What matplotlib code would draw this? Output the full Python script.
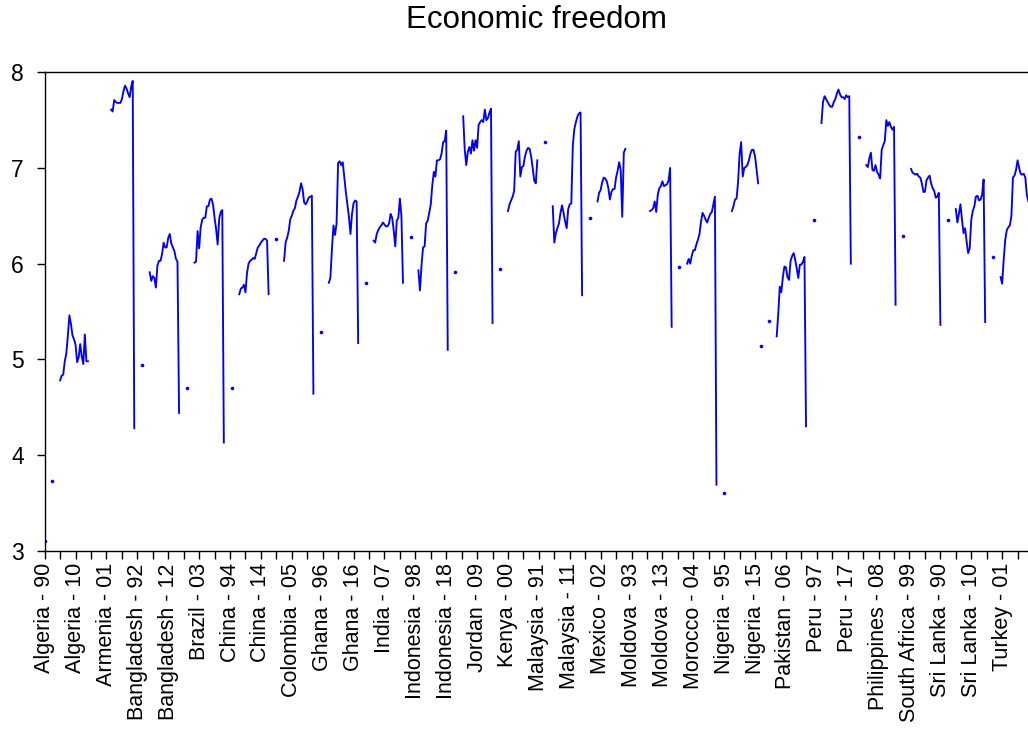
import numpy as np
import matplotlib
matplotlib.use("Agg")
import matplotlib.pyplot as plt

nan = np.nan

countries = ["Algeria", "Armenia", "Bangladesh", "Brazil", "China", "Colombia",
             "Ghana", "India", "Indonesia", "Jordan", "Kenya", "Malaysia",
             "Mexico", "Moldova", "Morocco", "Nigeria", "Pakistan", "Peru",
             "Philippines", "South Africa", "Sri Lanka", "Turkey"]
first_year = 1990
last_year = 2018

# five-yearly observations (1990 and 1995)
v1990 = [3.10, nan, 4.28, 4.44, 4.13, 5.68, 4.64, 5.17, 5.80, 5.10, 5.38,
         7.08, 5.67, nan, 5.34, 3.69, 5.14, 4.30, 6.00, 5.57, 5.36, 5.39]
v1995 = [3.73, nan, 4.94, 4.70, 4.70, 6.26, 5.29, 5.80, 6.28, 5.91, 5.94,
         7.27, 6.48, nan, 5.97, 3.60, 5.40, 6.46, 7.32, 6.29, 6.46, 6.07]

# annual observations 2000-2018
algeria = [4.78, 4.83, 4.84, 4.98, 5.06, 5.25, 5.46, 5.37, 5.25, 5.21,
           5.15, 4.97, 5.02, 5.16, 5.03, 4.95, 5.26, 4.98, 4.98]
armenia = [nan, nan, nan, nan, 7.61, 7.59, 7.71, 7.69, 7.68, 7.68,
           7.68, 7.72, 7.80, 7.86, 7.83, 7.78, 7.74, 7.85, 7.91]
bangladesh = [5.91, 5.82, 5.87, 5.85, 5.75, 5.98, 6.03, 6.03, 6.10, 6.22,
              6.17, 6.17, 6.27, 6.31, 6.21, 6.17, 6.13, 6.05, 6.02]
brazil = [6.01, 6.02, 6.34, 6.16, 6.38, 6.46, 6.48, 6.48, 6.60, 6.60,
          6.67, 6.68, 6.62, 6.48, 6.36, 6.20, 6.47, 6.54, 6.56]
china = [5.68, 5.74, 5.75, 5.78, 5.70, 5.90, 6.00, 6.03, 6.04, 6.06,
         6.05, 6.11, 6.17, 6.19, 6.22, 6.24, 6.26, 6.26, 6.24]
colombia = [6.03, 6.22, 6.27, 6.34, 6.46, 6.50, 6.55, 6.58, 6.66, 6.70,
            6.75, 6.84, 6.78, 6.64, 6.62, 6.65, 6.69, 6.70, 6.71]
ghana = [5.80, 5.85, 6.15, 6.40, 6.30, 6.42, 7.05, 7.07, 7.03, 7.06,
         6.90, 6.75, 6.62, 6.49, 6.31, 6.52, 6.63, 6.66, 6.65]
india = [6.24, 6.22, 6.31, 6.35, 6.38, 6.40, 6.43, 6.41, 6.39, 6.39,
         6.42, 6.52, 6.48, 6.35, 6.18, 6.45, 6.48, 6.68, 6.50]
indonesia = [5.93, 5.72, 5.98, 6.17, 6.18, 6.42, 6.45, 6.53, 6.62, 6.82,
             6.96, 6.91, 7.08, 7.08, 7.09, 7.15, 7.27, 7.28, 7.39]
jordan = [7.54, 7.19, 7.03, 7.17, 7.22, 7.15, 7.29, 7.18, 7.29, 7.21,
          7.45, 7.48, 7.50, 7.48, 7.61, 7.50, 7.52, 7.58, 7.62]
kenya = [6.55, 6.62, 6.66, 6.70, 6.76, 7.17, 7.19, 7.28, 6.91, 7.01,
         7.02, 7.12, 7.18, 7.21, 7.20, 7.12, 7.00, 6.87, 6.84]
malaysia = [6.60, 6.22, 6.32, 6.37, 6.42, 6.53, 6.61, 6.53, 6.44, 6.37,
            6.57, 6.62, 6.63, 7.24, 7.41, 7.48, 7.54, 7.57, 7.58]
mexico = [6.65, 6.74, 6.77, 6.85, 6.90, 6.89, 6.86, 6.79, 6.67, 6.75,
          6.78, 6.78, 6.90, 6.97, 7.06, 6.98, 6.49, 7.16, 7.20]
moldova = [nan, nan, nan, nan, nan, 6.55, 6.56, 6.58, 6.65, 6.54,
           6.72, 6.79, 6.81, 6.86, 6.81, 6.82, 6.83, 6.87, 7.00]
morocco = [6.00, 6.05, 6.00, 6.08, 6.14, 6.14, 6.20, 6.25, 6.31, 6.44,
           6.53, 6.50, 6.46, 6.43, 6.48, 6.52, 6.54, 6.62, 6.70]
nigeria = [6.55, 6.60, 6.67, 6.68, 6.85, 7.15, 7.27, 6.91, 7.00, 7.01,
           7.03, 7.08, 7.15, 7.19, 7.19, 7.12, 6.98, 6.84, nan]
pakistan = [5.24, 5.47, 5.76, 5.70, 5.86, 5.97, 5.96, 5.86, 5.83, 6.03,
            6.08, 6.11, 6.04, 5.95, 5.85, 5.99, 5.99, 6.02, 6.07]
peru = [7.47, 7.69, 7.75, 7.72, 7.69, 7.66, 7.64, 7.64, 7.69, 7.72,
        7.78, 7.82, 7.77, 7.74, 7.74, 7.72, 7.76, 7.74, 7.75]
philippines = [7.03, 7.01, 7.10, 7.16, 6.98, 6.97, 7.03, 6.96, 6.93, 6.89,
               7.19, 7.24, 7.28, 7.50, 7.44, 7.48, 7.43, 7.40, 7.43]
south_africa = [6.99, 6.95, 6.94, 6.93, 6.94, 6.91, 6.90, 6.84, 6.75, 6.75,
                6.87, 6.90, 6.92, 6.84, 6.79, 6.76, 6.69, 6.70, 6.74]
sri_lanka = [6.57, 6.43, 6.52, 6.62, 6.46, 6.32, 6.37, 6.23, 6.11, 6.16,
             6.46, 6.55, 6.60, 6.70, 6.71, 6.66, 6.67, 6.72, 6.88]
turkey = [5.86, 5.79, 6.04, 6.25, 6.35, 6.38, 6.40, 6.50, 6.90, 6.92,
          6.98, 7.08, 7.00, 6.94, 6.93, 6.94, 6.90, 6.72, 6.65]

annual = [algeria, armenia, bangladesh, brazil, china, colombia, ghana, india,
          indonesia, jordan, kenya, malaysia, mexico, moldova, morocco, nigeria,
          pakistan, peru, philippines, south_africa, sri_lanka, turkey]

# stack the panel: country by country, 1990..2018
efw = []
obs_names = []
for i, name in enumerate(countries):
    efw += [v1990[i]] + [nan] * 4 + [v1995[i]] + [nan] * 4 + annual[i]
    obs_names += ["%s - %02d" % (name, yr % 100)
                  for yr in range(first_year, last_year + 1)]
efw = np.array(efw, dtype=float)
obs = np.arange(len(efw))

# points with no neighbour on either side get drawn as dots
ok = np.isfinite(efw)
prev_ok = np.r_[False, ok[:-1]]
next_ok = np.r_[ok[1:], False]
lone = ok & ~prev_ok & ~next_ok

plt.rcParams["font.family"] = ["Liberation Sans", "DejaVu Sans"]

W, H = 1028, 735
fig = plt.figure(figsize=(W / 100, H / 100), dpi=100)
x0, x1 = 44.7, 1028.4
y0, y1 = 72.3, 550.7
ax = fig.add_axes([x0 / W, 1 - y1 / H, (x1 - x0) / W, (y1 - y0) / H])

ax.plot(obs, efw, color="#0000ff", lw=1.35)
ax.plot(obs[lone], efw[lone], "o", ms=2.6, color="#0000ff", mew=0)

ax.set_xlim(0, len(efw) - 1)
ax.set_ylim(3, 8)
ax.set_yticks(np.arange(3, 9))

major = np.arange(0, len(efw), 20)
ax.set_xticks(major)
ax.set_xticklabels([obs_names[j] for j in major], rotation=90, fontsize=15.5)
ax.set_xticks(np.arange(10, len(efw), 20), minor=True)
ax.tick_params(axis="y", labelsize=16.5, direction="out", length=6, width=1, pad=9)
ax.tick_params(axis="x", which="both", direction="out", length=6, width=1, pad=3)
for s in ax.spines.values():
    s.set_linewidth(1.0)
ax.spines["right"].set_visible(False)

fig.text((x0 + x1) / 2 / W, 1 - 20 / H, "Economic freedom",
         ha="center", va="center", fontsize=22.5)

fig.savefig("out.png", dpi=100)
